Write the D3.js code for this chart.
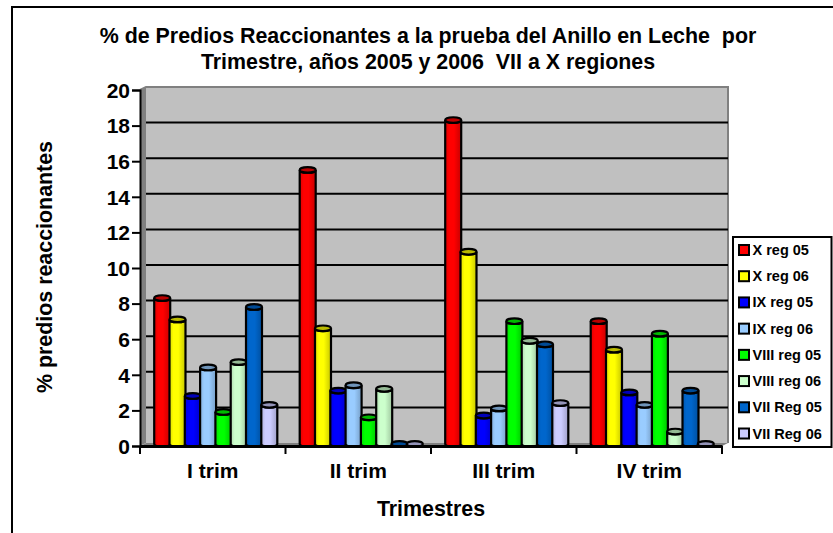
<!DOCTYPE html>
<html>
<head>
<meta charset="utf-8">
<script src="https://cdn.jsdelivr.net/npm/d3@7"></script>
<style>
body { margin: 0; background: #fff; }
text { font-family: "Liberation Sans", Arial, sans-serif; font-weight: bold; fill: #000; }
</style>
</head>
<body>
<div id="chart"></div>
<script>
var trimestres = ["I trim", "II trim", "III trim", "IV trim"];
var series = ["X reg 05", "X reg 06", "IX reg 05", "IX reg 06", "VIII reg 05", "VIII reg 06", "VII Reg 05", "VII Reg 06"];
var colors = ["#ff0000", "#ffff00", "#0000ff", "#99ccff", "#00ff00", "#ccffcc", "#0066cc", "#ccccff"];

var xReg05 = [8.2, 15.4, 18.2, 6.9];
var xReg06 = [7.0, 6.5, 10.8, 5.3];
var ixReg05 = [2.7, 3.0, 1.6, 2.9];
var ixReg06 = [4.3, 3.3, 2.0, 2.2];
var viiiReg05 = [1.8, 1.5, 6.9, 6.2];
var viiiReg06 = [4.6, 3.1, 5.8, 0.7];
var viiReg05 = [7.7, 0, 5.6, 3.0];
var viiReg06 = [2.2, 0, 2.3, 0];
var values = [xReg05, xReg06, ixReg05, ixReg06, viiiReg05, viiiReg06, viiReg05, viiReg06];

var yTicks = [0, 2, 4, 6, 8, 10, 12, 14, 16, 18, 20];

var svg = d3.select("#chart").append("svg")
    .attr("width", 833)
    .attr("height", 533)
    .style("display", "block");

// outer frame, only top and left are inside the picture
svg.append("path")
    .attr("d", "M12,533 L12,7 L833,7")
    .attr("fill", "none").attr("stroke", "#000").attr("stroke-width", 2);

var x = d3.scaleBand().domain(trimestres).range([140, 722]);
var y = d3.scaleLinear().domain([0, 20]).range([446, 90]);
var xSub = d3.scaleBand().domain(series).range([0, x.bandwidth()]).paddingInner(0.1).paddingOuter(0.805);

// 3d depth of the back wall
var dx = 6, dy = 3;

var defs = svg.append("defs");
colors.forEach(function (c, i) {
    var g = defs.append("linearGradient").attr("id", "cyl" + i);
    g.append("stop").attr("offset", "0%").attr("stop-color", d3.rgb(c).darker(0.4));
    g.append("stop").attr("offset", "25%").attr("stop-color", c);
    g.append("stop").attr("offset", "55%").attr("stop-color", c);
    g.append("stop").attr("offset", "100%").attr("stop-color", d3.rgb(c).darker(0.7));
});

var x0 = x.range()[0], x1 = x.range()[1], yb = y(0), yt = y(20);

// side wall and floor
svg.append("path")
    .attr("d", `M${x0},${yb} L${x0},${yt} L${x0 + dx},${yt - dy} L${x0 + dx},${yb - dy} Z`)
    .attr("fill", "#808080");
svg.append("path")
    .attr("d", `M${x0},${yb} L${x0 + dx},${yb - dy} L${x1 + dx},${yb - dy} L${x1},${yb} Z`)
    .attr("fill", "#808080");

// back wall
svg.append("rect")
    .attr("x", x0 + dx).attr("y", yt - dy)
    .attr("width", x1 - x0).attr("height", yb - yt)
    .attr("fill", "#c0c0c0");
svg.append("path")
    .attr("d", `M${x0},${yt} L${x0 + dx},${yt - dy} L${x1 + dx},${yt - dy} L${x1 + dx},${yb - dy}`)
    .attr("fill", "none").attr("stroke", "#808080").attr("stroke-width", 2);

// gridlines
svg.append("g").selectAll("line")
    .data(yTicks.filter(d => d > 0 && d < 20))
    .enter().append("line")
    .attr("x1", x0 + dx).attr("x2", x1 + dx)
    .attr("y1", d => y(d) - dy).attr("y2", d => y(d) - dy)
    .attr("stroke", "#000").attr("stroke-width", 2);

// bars, each one overlaps the previous a bit
var rx = 8, ry = 2.8;
series.forEach(function (s, i) {
    var g = svg.append("g");
    trimestres.forEach(function (t, j) {
        var v = values[i][j];
        var cx = x(t) + xSub(s) + xSub.bandwidth() / 2 + dx / 2;
        var base = y(0) - 2;
        var top = y(v) - 2;
        if (v > 0) {
            g.append("path")
                .attr("d", `M${cx - rx},${top} L${cx - rx},${base} A${rx},${ry} 0 0 0 ${cx + rx},${base} L${cx + rx},${top} A${rx},${ry} 0 0 1 ${cx - rx},${top} Z`)
                .attr("fill", `url(#cyl${i})`)
                .attr("stroke", "#000").attr("stroke-width", 2.2);
        }
        g.append("ellipse")
            .attr("cx", cx).attr("cy", top)
            .attr("rx", rx).attr("ry", ry)
            .attr("fill", d3.rgb(colors[i]).darker(0.9))
            .attr("stroke", "#000").attr("stroke-width", 2.2);
    });
});

// axes
var yAxis = svg.append("g")
    .attr("transform", `translate(${x0},0)`)
    .call(d3.axisLeft(y).tickValues(yTicks).tickSize(8).tickPadding(2));
yAxis.selectAll("text").style("font-size", "21px").attr("dy", "0.35em");
yAxis.selectAll("line").attr("stroke", "#000").attr("stroke-width", 2);
yAxis.select(".domain").attr("stroke", "#000").attr("stroke-width", 2);

var xAxis = svg.append("g")
    .attr("transform", `translate(0,${yb})`)
    .call(d3.axisBottom(x).tickSize(0).tickPadding(17));
xAxis.selectAll("text").style("font-size", "21px");
xAxis.select(".domain").attr("stroke", "#000").attr("stroke-width", 3);
xAxis.selectAll(".sep")
    .data(d3.range(trimestres.length + 1))
    .enter().append("line")
    .attr("x1", d => x0 + d * x.bandwidth()).attr("x2", d => x0 + d * x.bandwidth())
    .attr("y1", 0).attr("y2", 8)
    .attr("stroke", "#000").attr("stroke-width", 2);

// titles
svg.append("text").attr("x", 428).attr("y", 43).attr("text-anchor", "middle")
    .style("font-size", "21.4px").style("white-space", "pre")
    .text("% de Predios Reaccionantes a la prueba del Anillo en Leche  por");
svg.append("text").attr("x", 428).attr("y", 69).attr("text-anchor", "middle")
    .style("font-size", "21.4px").style("white-space", "pre")
    .text("Trimestre, años 2005 y 2006  VII a X regiones");
svg.append("text").attr("x", 431).attr("y", 516).attr("text-anchor", "middle")
    .style("font-size", "21.4px").text("Trimestres");
svg.append("text").attr("transform", "translate(52,267) rotate(-90)").attr("text-anchor", "middle")
    .style("font-size", "21.4px").text("% predios reaccionantes");

// legend
var legend = svg.append("g");
legend.append("rect")
    .attr("x", 733).attr("y", 237).attr("width", 98.5).attr("height", 210)
    .attr("fill", "#fff").attr("stroke", "#000").attr("stroke-width", 2);
var ly = d3.scalePoint().domain(series).range([249.5, 433]);
series.forEach(function (s, i) {
    legend.append("rect")
        .attr("x", 739).attr("y", ly(s) - 4.5).attr("width", 10).attr("height", 10)
        .attr("fill", colors[i]).attr("stroke", "#000").attr("stroke-width", 2);
    legend.append("text")
        .attr("x", 752.5).attr("y", ly(s) + 5.5)
        .style("font-size", "14.5px").text(s);
});
</script>
</body>
</html>
